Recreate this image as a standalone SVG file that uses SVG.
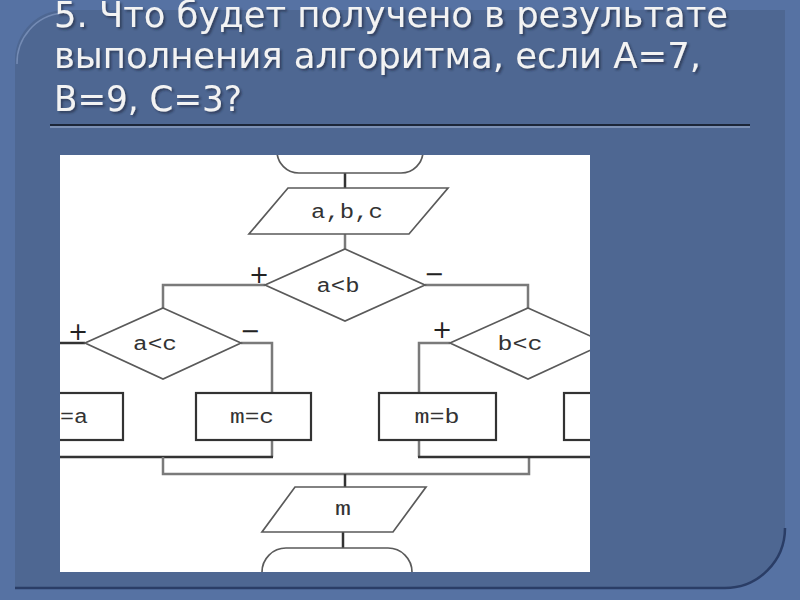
<svg xmlns="http://www.w3.org/2000/svg" width="800" height="600" viewBox="0 0 800 600">
<defs>
<style>
.title{font-family:"DejaVu Sans","Liberation Sans",sans-serif;font-size:36px;fill:#f3f3f3}
.shape{fill:#fff;stroke:#5a5a5a;stroke-width:1.7}
.box{fill:#fff;stroke:#333;stroke-width:2.2}
.lbl{font-family:"Liberation Mono","DejaVu Sans Mono",monospace;font-size:20px;fill:#333;text-anchor:middle}
.sign{font-family:"DejaVu Sans",sans-serif;font-size:24px;fill:#222;text-anchor:middle}
.conn{fill:none;stroke:#7a7a7a;stroke-width:2.5}
.dark{fill:none;stroke:#333;stroke-width:2.5}
</style>
<filter id="shadow" x="-5%" y="-20%" width="110%" height="150%">
<feDropShadow dx="2" dy="2" stdDeviation="1" flood-color="#1e283c" flood-opacity="0.6"/>
</filter>
<clipPath id="clipPanel"><rect x="60" y="155" width="530" height="417"/></clipPath>
</defs>

<rect width="800" height="600" fill="#5672a3"/>
<path d="M15,60 A50,50 0 0 1 65,10 H785 V528 A60,60 0 0 1 725,588 H15 Z" fill="#4e6792"/>
<path d="M785,528 A60,60 0 0 1 725,588 H15" fill="none" stroke="#2a3d66" stroke-width="2.5"/>
<path d="M17,64 A50,50 0 0 1 62,13" fill="none" stroke="#8ea4cc" stroke-width="1.5" opacity="0.6"/>

<g id="title" filter="url(#shadow)">
<text class="title" x="54" y="27" textLength="674" lengthAdjust="spacingAndGlyphs">5. Что будет получено в результате</text>
<text class="title" x="54" y="68" textLength="647" lengthAdjust="spacingAndGlyphs">выполнения алгоритма, если А=7,</text>
<text class="title" x="54" y="111" textLength="188" lengthAdjust="spacingAndGlyphs">В=9, С=3?</text>
</g>
<g id="rule">
<line x1="50" y1="125" x2="750" y2="125" stroke="#1c2638" stroke-width="2"/>
<line x1="50" y1="127" x2="750" y2="127" stroke="#a9bad6" stroke-width="1"/>
</g>

<rect x="60" y="155" width="530" height="417" fill="#fff"/>

<g clip-path="url(#clipPanel)">
<g id="connectors">
<line class="dark" x1="345" y1="173" x2="345" y2="188"/>
<line class="conn" x1="345" y1="234" x2="345" y2="250"/>
<polyline class="conn" points="265,285 163,285 163,308"/>
<polyline class="conn" points="425,285 528,285 528,308"/>
<line class="dark" x1="55" y1="343" x2="85" y2="343"/>
<polyline class="conn" points="241,343 272,343 272,393"/>
<polyline class="conn" points="450,343 419,343 419,393"/>
<polyline class="conn" points="272,440 272,457"/>
<line class="dark" x1="55" y1="457" x2="273" y2="457"/>
<polyline class="conn" points="163,457 163,474 529,474 529,457"/>
<polyline class="conn" points="419,440 419,457"/>
<line class="dark" x1="418" y1="457" x2="600" y2="457"/>
<line class="dark" x1="345" y1="474" x2="345" y2="487"/>
<line class="dark" x1="343" y1="532" x2="343" y2="548"/>
</g>

<g id="start"><rect class="shape" x="277" y="118" width="146" height="55" rx="22"/></g>
<g id="input"><polygon class="shape" points="288,188 448,188 409,234 249,234"/><text class="lbl" x="347" y="218" textLength="72" lengthAdjust="spacingAndGlyphs">a,b,c</text></g>
<g id="cond-ab"><polygon class="shape" points="345,249 425,285 345,321 265,285"/><text class="lbl" x="338" y="292" textLength="43" lengthAdjust="spacingAndGlyphs">a&lt;b</text>
<text class="sign" x="259" y="283">+</text><text class="sign" x="434" y="282">−</text></g>
<g id="cond-ac"><polygon class="shape" points="163,308 241,343 163,379 85,343"/><text class="lbl" x="155" y="350" textLength="44" lengthAdjust="spacingAndGlyphs">a&lt;c</text>
<text class="sign" x="78" y="340">+</text><text class="sign" x="250" y="339">−</text></g>
<g id="cond-bc"><polygon class="shape" points="528,308 606,343 528,379 450,343"/><text class="lbl" x="520" y="350" textLength="45" lengthAdjust="spacingAndGlyphs">b&lt;c</text>
<text class="sign" x="442" y="338">+</text></g>
<g id="box-ma"><rect class="box" x="8" y="393" width="115" height="47"/><text class="lbl" x="60" y="423" style="text-anchor:start" textLength="28" lengthAdjust="spacingAndGlyphs">=a</text></g>
<g id="box-mc"><rect class="box" x="196" y="393" width="115" height="47"/><text class="lbl" x="252" y="423" textLength="44" lengthAdjust="spacingAndGlyphs">m=c</text></g>
<g id="box-mb"><rect class="box" x="379" y="393" width="117" height="47"/><text class="lbl" x="437" y="423" textLength="45" lengthAdjust="spacingAndGlyphs">m=b</text></g>
<g id="box-right"><rect class="box" x="564" y="393" width="115" height="47"/></g>
<g id="output"><polygon class="shape" points="295,487 426,487 393,532 262,532"/><text class="lbl" x="343" y="515" textLength="16" lengthAdjust="spacingAndGlyphs">m</text></g>
<g id="end"><rect class="shape" x="262" y="548" width="150" height="55" rx="24"/></g>
</g>
</svg>
